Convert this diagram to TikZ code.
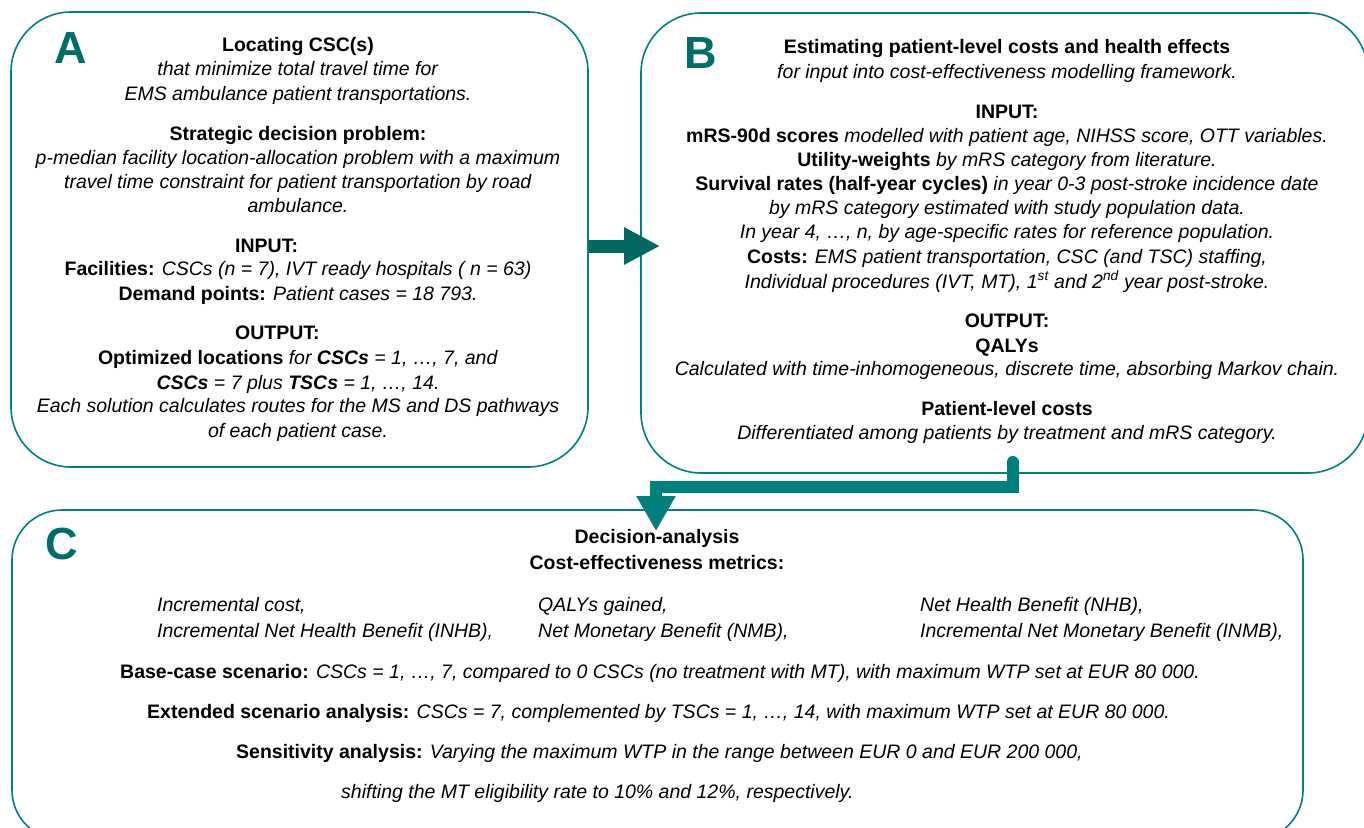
\documentclass[tikz,border=0pt]{standalone}
\usepackage{fontspec}
\setmainfont{Liberation Sans}
\usetikzlibrary{arrows.meta}
\definecolor{tealborder}{RGB}{0,128,128}
\definecolor{tealletter}{RGB}{0,110,104}
\definecolor{tealarrowA}{RGB}{0,105,98}
\definecolor{tealarrowB}{RGB}{0,128,124}
\tikzset{
  panel/.style={draw=tealborder, line width=1.6pt, rounded corners=60pt, inner sep=0pt},
  ln/.style={inner sep=0pt, text height=14pt, text depth=4pt, font=\fontsize{19.5}{24}\selectfont, text=black},
  lnw/.style={ln, anchor=west},
  letter/.style={inner sep=0pt, font=\fontsize{45}{45}\selectfont\bfseries, text=tealletter},
}
\begin{document}
\begin{tikzpicture}[x=1pt,y=-1pt]
\useasboundingbox (0,0) rectangle (1364,827);
\clip (0,0) rectangle (1364,827);
\fill[white] (0,0) rectangle (1364,827);
% panels
\node[panel, minimum width=577pt, minimum height=455pt] (boxA) at (299.5,239.5) {};
\node[panel, minimum width=727pt, minimum height=460pt] (boxB) at (1004.5,243) {};
\node[panel, rounded corners=50pt, minimum width=1291pt, minimum height=330pt] (boxC) at (657.5,675) {};
% letters
\node[letter] (la) at (71,48) {A};
\node[letter] (lb) at (701,53) {B};
\node[letter] (lc) at (62,544) {C};
% connectors
\coordinate (ab0) at (boxA.east |- 0,246);
\coordinate (ab1) at (660,246);
\draw[tealarrowA, line width=13pt, -{Triangle[length=36pt, width=35pt]}] (ab0) -- (ab1);
\coordinate (bc0) at (1012.5,462);
\coordinate (bc1) at (1012.5,486.5);
\coordinate (bc2) at (656,486.5);
\coordinate (bc3) at (656,531);
\draw[tealarrowB, line width=12pt, line cap=round, line join=miter, -{Triangle[length=35pt, width=37pt]}] (bc0) -- (bc1) -- (bc2) -- (bc3);
% panel A text
\node[ln] (a1) at (298,46) {\textbf{Locating CSC(s)}};
\node[ln] (a2) at (298,70) {\textit{that minimize total travel time for}};
\node[ln] (a3) at (298,95) {\textit{EMS ambulance patient transportations.}};
\node[ln] (a4) at (298,135) {\textbf{Strategic decision problem:}};
\node[ln] (a5) at (298,159) {\textit{p-median facility location-allocation problem with a maximum}};
\node[ln] (a6) at (298,183) {\textit{travel time constraint for patient transportation by road}};
\node[ln] (a7) at (298,207) {\textit{ambulance.}};
\node[lnw] (a8) at (235,247) {\textbf{INPUT:}};
\node[ln] (a9) at (298,270) {\textbf{Facilities:} \textit{CSCs (n = 7), IVT ready hospitals ( n = 63)}};
\node[ln] (a10) at (298,295) {\textbf{Demand points:} \textit{Patient cases = 18 793.}};
\node[lnw] (a11) at (235,334) {\textbf{OUTPUT:}};
\node[ln] (a12) at (298,359) {\textbf{Optimized locations} \textit{for \textbf{CSCs} = 1, …, 7, and}};
\node[ln] (a13) at (298,384) {\textit{\textbf{CSCs} = 7 plus \textbf{TSCs} = 1, …, 14.}};
\node[ln] (a14) at (298,407) {\textit{Each solution calculates routes for the MS and DS pathways}};
\node[ln] (a15) at (298,432) {\textit{of each patient case.}};
% panel B text
\node[ln] (b1) at (1007,48) {\textbf{Estimating patient-level costs and health effects}};
\node[ln] (b2) at (1007,73) {\textit{for input into cost-effectiveness modelling framework.}};
\node[ln] (b3) at (1007,113) {\textbf{INPUT:}};
\node[ln] (b4) at (1007,137) {\textbf{mRS-90d scores} \textit{modelled with patient age, NIHSS score, OTT variables.}};
\node[ln] (b5) at (1007,161) {\textbf{Utility-weights} \textit{by mRS category from literature.}};
\node[ln] (b6) at (1007,185) {\textbf{Survival rates (half-year cycles)} \textit{in year 0-3 post-stroke incidence date}};
\node[ln] (b7) at (1007,209) {\textit{by mRS category estimated with study population data.}};
\node[ln] (b8) at (1007,233) {\textit{In year 4, …, n, by age-specific rates for reference population.}};
\node[ln] (b9) at (1007,258) {\textbf{Costs:} \textit{EMS patient transportation, CSC (and TSC) staffing,}};
\node[ln] (b10) at (1007,283) {\textit{Individual procedures (IVT, MT), 1\textsuperscript{st} and 2\textsuperscript{nd} year post-stroke.}};
\node[ln] (b11) at (1007,322) {\textbf{OUTPUT:}};
\node[ln] (b12) at (1007,347) {\textbf{QALYs}};
\node[ln] (b13) at (1007,370) {\textit{Calculated with time-inhomogeneous, discrete time, absorbing Markov chain.}};
\node[ln] (b14) at (1007,410) {\textbf{Patient-level costs}};
\node[ln] (b15) at (1007,434) {\textit{Differentiated among patients by treatment and mRS category.}};
% panel C text
\node[ln] (c1) at (657,538) {\textbf{Decision-analysis}};
\node[ln] (c2) at (657,564) {\textbf{Cost-effectiveness metrics:}};
\node[lnw] (c3) at (157,606) {\textit{Incremental cost,}};
\node[lnw] (c4) at (538,606) {\textit{QALYs gained,}};
\node[lnw] (c5) at (920,606) {\textit{Net Health Benefit (NHB),}};
\node[lnw] (c6) at (157,632) {\textit{Incremental Net Health Benefit (INHB),}};
\node[lnw] (c7) at (538,632) {\textit{Net Monetary Benefit (NMB),}};
\node[lnw] (c8) at (920,632) {\textit{Incremental Net Monetary Benefit (INMB),}};
\node[lnw] (c9) at (120,673) {\textbf{Base-case scenario:} \textit{CSCs = 1, …, 7, compared to 0 CSCs (no treatment with MT), with maximum WTP set at EUR 80 000.}};
\node[lnw] (c10) at (147,713) {\textbf{Extended scenario analysis:} \textit{CSCs = 7, complemented by TSCs = 1, …, 14, with maximum WTP set at EUR 80 000.}};
\node[lnw] (c11) at (236,753) {\textbf{Sensitivity analysis:} \textit{Varying the maximum WTP in the range between EUR 0 and EUR 200 000,}};
\node[lnw] (c12) at (341,793) {\textit{shifting the MT eligibility rate to 10\% and 12\%, respectively.}};
\end{tikzpicture}
\end{document}
